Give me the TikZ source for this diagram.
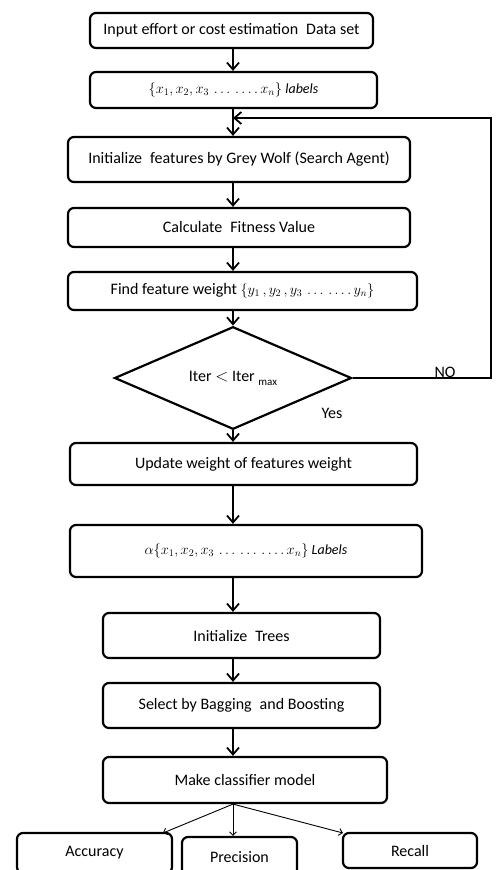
\documentclass[tikz,border=0pt]{standalone}
\usepackage{fontspec}
\setmainfont{Carlito}
\usetikzlibrary{shapes.geometric,arrows.meta}

\tikzset{
  stepbox/.style={rectangle, rounded corners=6pt, draw, line width=2.2pt, align=center,
    font=\fontsize{16}{18}\selectfont},
  mathbox/.style={stepbox, font=\fontsize{14}{16}\selectfont},
  flow/.style={line width=1.8pt, -{Straight Barb[length=7pt,width=12pt,line width=1.8pt]}},
  thin flow/.style={line width=0.9pt, -{Straight Barb[length=3.5pt,width=7pt]}},
}

\begin{document}
\begin{tikzpicture}[x=1pt, y=-1pt]
    \useasboundingbox (0,0) rectangle (496,870);

    \node[stepbox, minimum width=283pt, minimum height=35pt] (In) at (231.5, 30.5) {Input effort or cost estimation\enspace Data set};
    \node[mathbox, minimum width=287pt, minimum height=36pt] (Lab) at (233.5, 90) {$\{x_1,x_2,x_3\,\dots\,\dots.\,x_n\}$ \textit{labels}};
    \node[stepbox, minimum width=342pt, minimum height=45pt] (Init) at (239, 159.5) {Initialize\enspace features by Grey Wolf (Search Agent)};
    \node[stepbox, minimum width=342pt, minimum height=39pt] (Fit) at (239, 227.5) {Calculate\enspace Fitness Value};
    \node[stepbox, minimum width=349pt, minimum height=38pt] (Find) at (242.5, 291) {Find feature weight {\fontsize{14}{16}\selectfont$\{y_1\,, y_2\,, y_3\,\dots\,\dots.\,y_n\}$}};
    \node[diamond, draw, line width=2.2pt, minimum width=237pt, minimum height=88pt, inner sep=0pt,
      font=\fontsize{16}{18}\selectfont] (Dec) at (233, 378) {Iter $<$ Iter {\fontsize{11}{12}\selectfont\raisebox{-4pt}{max}}};
    \node[stepbox, minimum width=347pt, minimum height=42pt] (Upd) at (243.5, 464) {Update weight of features weight};
    \node[mathbox, minimum width=352pt, minimum height=52pt] (ALab) at (246, 551) {$\alpha\{x_1,x_2,x_3\,\dots\,\dots\,\dots.\,x_n\}$ \textit{Labels}};
    \node[stepbox, minimum width=277pt, minimum height=45pt] (Trees) at (241.5, 635.5) {Initialize\enspace Trees};
    \node[stepbox, minimum width=277pt, minimum height=45pt] (Sel) at (241.5, 705.5) {Select by Bagging\enspace and Boosting};
    \node[stepbox, minimum width=284pt, minimum height=46pt] (Make) at (245, 780) {Make classifier model};
    \node[stepbox, minimum width=155pt, minimum height=40pt] (Acc) at (94.5, 853) {Accuracy};
    \node[stepbox, minimum width=115pt, minimum height=40pt] (Prec) at (239.5, 857) {Precision};
    \node[stepbox, minimum width=134pt, minimum height=35pt] (Rec) at (410, 850.5) {Recall};

    \coordinate (NoEnd) at (491, 378);
    \coordinate (Back) at (491, 118);

    % arrows
    \draw[flow] (In.south -| Dec) -- (Lab.north -| Dec);
    \draw[flow] (Lab.south -| Dec) -- (Init.north -| Dec);
    \draw[flow] (Init.south -| Dec) -- (Fit.north -| Dec);
    \draw[flow] (Fit.south -| Dec) -- (Find.north -| Dec);
    \draw[flow] (Find.south -| Dec) -- (Dec.north);
    \draw[flow] (Dec.south) -- (Upd.north -| Dec);
    \draw[flow] (Upd.south -| Dec) -- (ALab.north -| Dec);
    \draw[flow] (ALab.south -| Dec) -- (Trees.north -| Dec);
    \draw[flow] (Trees.south -| Dec) -- (Sel.north -| Dec);
    \draw[flow] (Sel.south -| Dec) -- (Make.north -| Dec);
    \draw[flow] (Dec.east) -- (NoEnd) -- (Back) -- (Back -| Dec);
    \node[font=\fontsize{16}{18}\selectfont, anchor=base] (No) at (445, 377) {NO};
    \node[font=\fontsize{16}{18}\selectfont] (Yes) at (332, 413) {Yes};

    \draw[thin flow] (Make.south -| Dec) -- (163, 833);
    \draw[thin flow] (Make.south -| Dec) -- (Prec.north -| Dec);
    \draw[thin flow] (Make.south -| Dec) -- (343, 833);
\end{tikzpicture}
\end{document}
